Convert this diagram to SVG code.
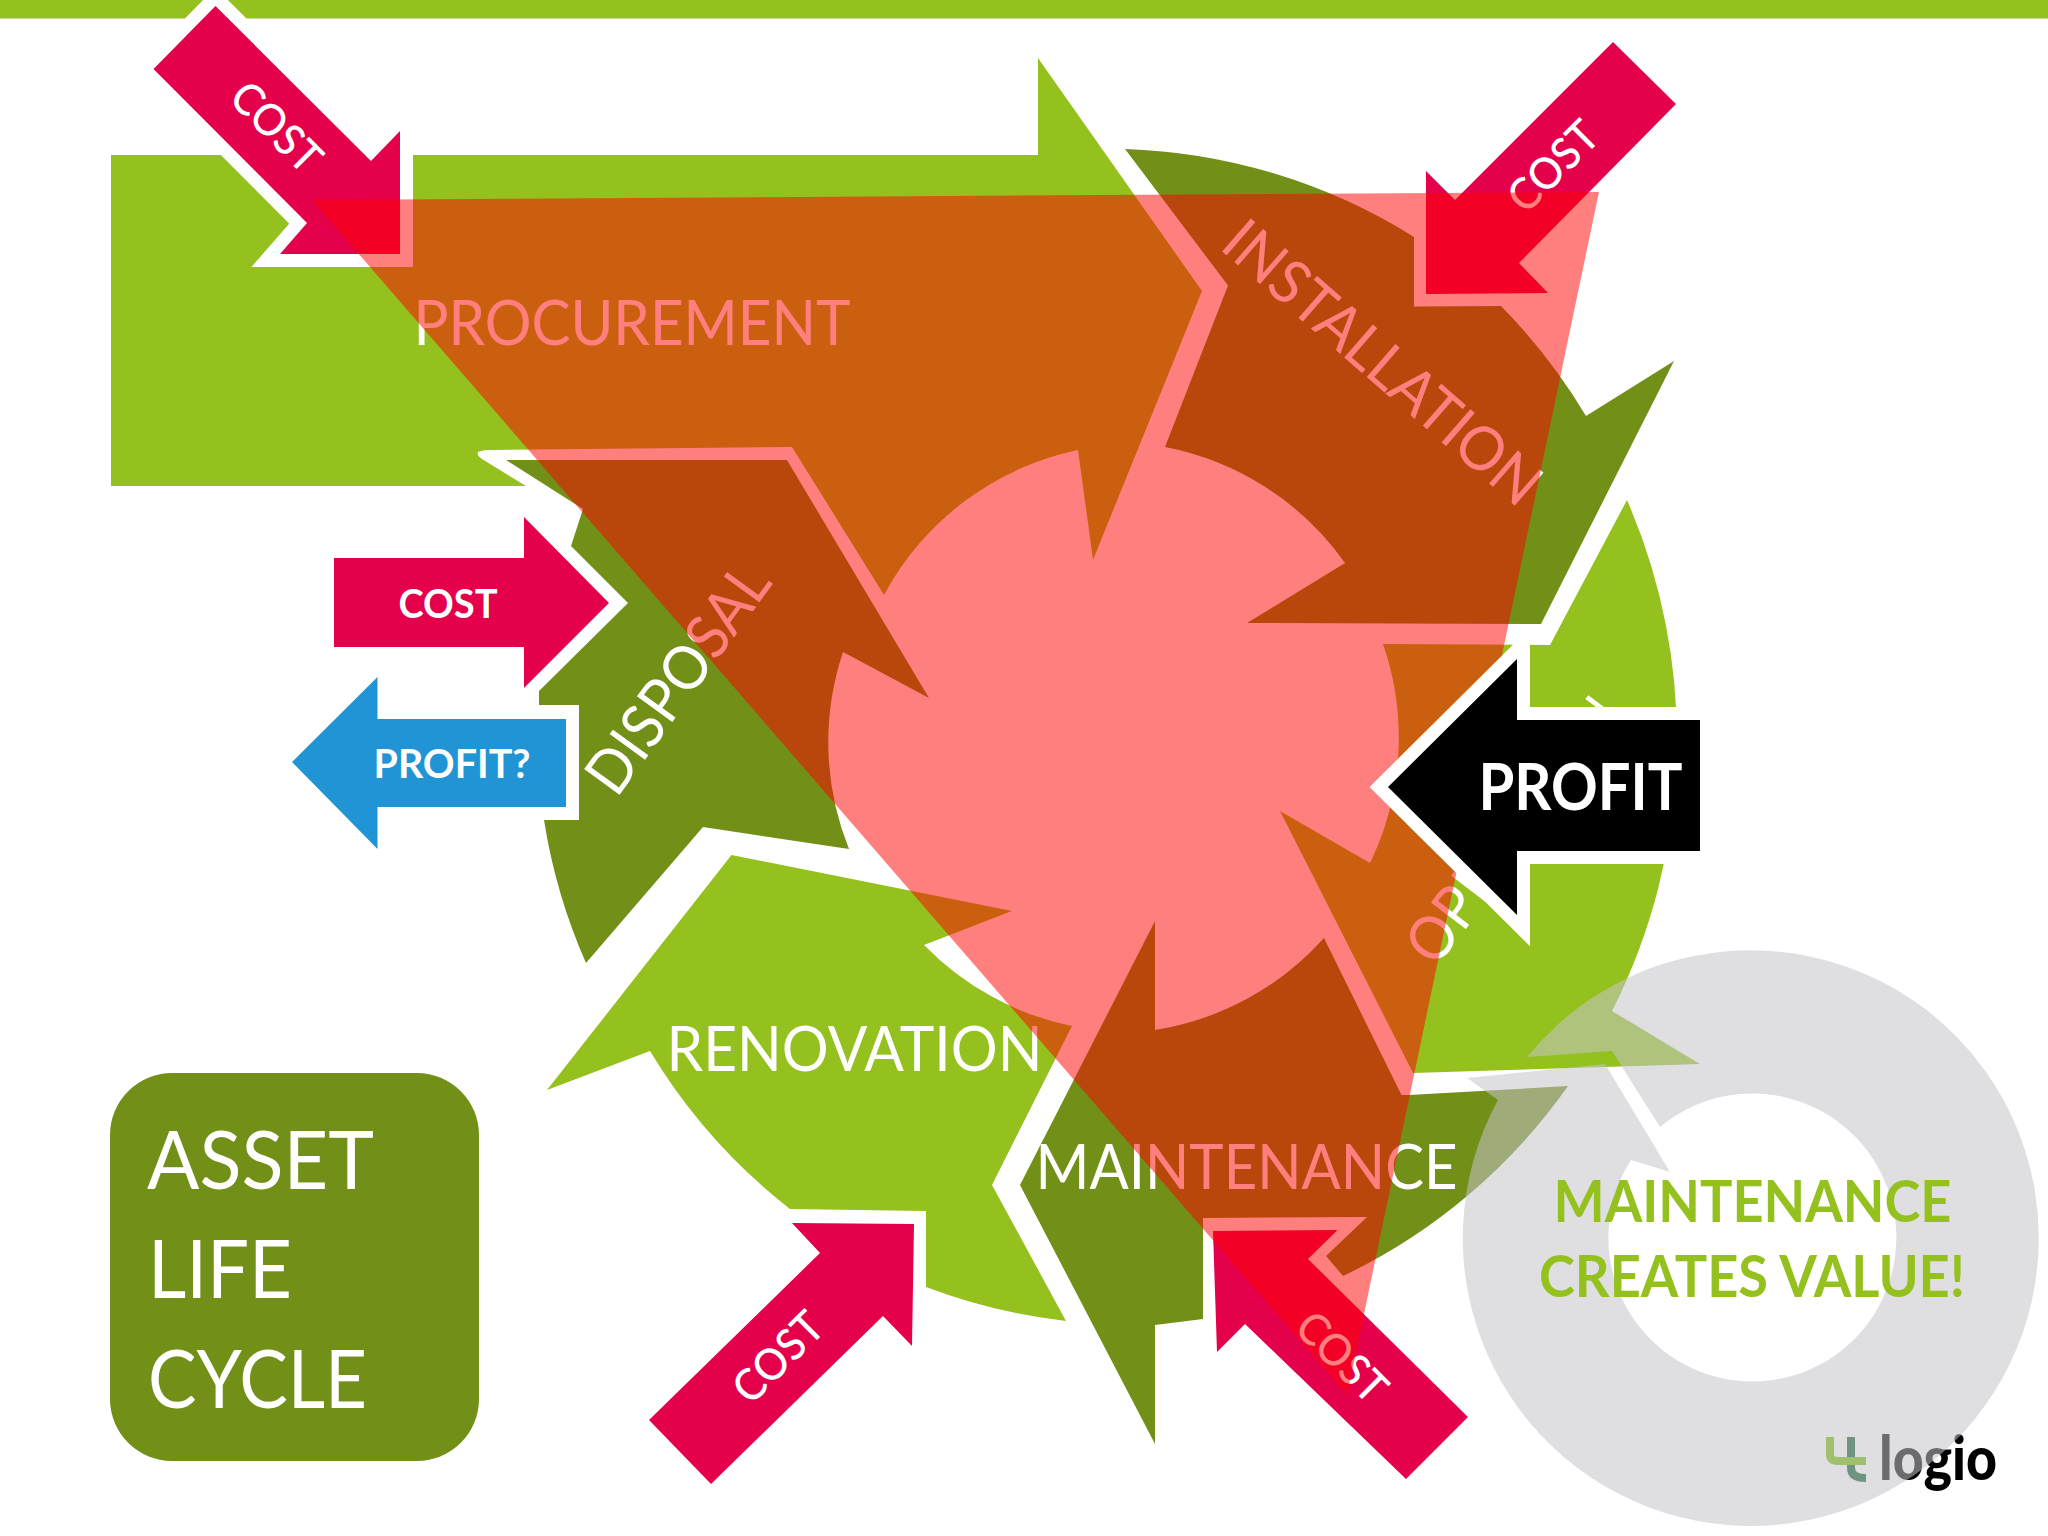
<svg xmlns="http://www.w3.org/2000/svg" width="2048" height="1536" viewBox="0 0 2048 1536">
<style>
text{font-family:Lato,"Open Sans","Liberation Sans",sans-serif;fill:#fff;text-anchor:middle}
.light{fill:#95c11f}
.dark{fill:#728f17}
.cost{fill:#e4004b}
.lab{font-size:61px}
.c{font-size:44px;font-weight:500}
.b{font-size:82px;text-anchor:start}
.g{font-size:58px;font-weight:700;fill:#95c11f}
</style>
<rect width="2048" height="1536" fill="#fff"/>
<rect id="top-bar" width="2048" height="18.5" class="light"/>
<g id="procurement">
<path class="light" d="M111,155H1038V58L1202,291L1093,560L1078,450A287,287 0 0 0 884,595L792,447L490,450Q470,450 482,459L526,486H111Z"/>
<text class="lab" x="632" y="345" textLength="437" lengthAdjust="spacingAndGlyphs">PROCUREMENT</text>
</g>
<g id="installation">
<path class="dark" d="M1125,149A580,580 0 0 1 1414,237V306.5L1501,306A580,580 0 0 1 1586,416L1674,361L1541,624L1247,623L1345,563A287,287 0 0 0 1165,447L1228,285.5Z"/>
<text class="lab" transform="translate(1368.5,378.5) rotate(41)" textLength="398" lengthAdjust="spacingAndGlyphs">INSTALLATION</text>
</g>
<g id="operation">
<path class="light" d="M1627,500A600,600 0 0 1 1612,1011L1700,1064L1413,1073L1280,811L1370,863A287,287 0 0 0 1383,644L1550,645Z"/>
<text class="lab" transform="translate(1531,843) rotate(-52.8)" textLength="315" lengthAdjust="spacingAndGlyphs">OPERATION</text>
</g>
<g id="maintenance">
<path class="dark" d="M1155,921L1020,1185L1155,1444V1325L1203,1319V1218L1367,1217L1326,1256L1343,1276A580,580 0 0 0 1568,1086L1409,1095H1401.5L1324,938A287,287 0 0 1 1155,1030Z"/>
<text class="lab" x="1246.5" y="1189" textLength="422" lengthAdjust="spacingAndGlyphs">MAINTENANCE</text>
</g>
<g id="renovation">
<path class="light" d="M731.5,855L1012,911L924,945A287,287 0 0 0 1072,1026L992,1185L1066,1321A580,580 0 0 1 926,1287V1211L790,1209A580,580 0 0 1 650,1051L547,1090Z"/>
<text class="lab" x="854.5" y="1071" textLength="376" lengthAdjust="spacingAndGlyphs">RENOVATION</text>
</g>
<g id="disposal">
<path class="dark" d="M506,460H787L929,698L843,652A285,285 0 0 0 849,849L703,827L586,963A575,575 0 0 1 544,820H579V705H539V691L628,603L571,546L583,509Z"/>
<text class="lab" transform="translate(695,691) rotate(-54)" textLength="267" lengthAdjust="spacingAndGlyphs">DISPOSAL</text>
</g>
<g id="cost-procurement">
<path class="cost" stroke="#fff" stroke-width="26" paint-order="stroke" d="M215.5,6L371,161L400,131V254H280L307,223L153.5,69Z"/>
<text class="c" transform="translate(265.5,138) rotate(45)" textLength="108" lengthAdjust="spacingAndGlyphs">COST</text>
</g>
<g id="cost-installation">
<path class="cost" d="M1613,42L1676,104L1519,263L1548,293L1426,294V171L1455,200Z"/>
<text class="c" transform="translate(1564,177) rotate(-45)" textLength="108" lengthAdjust="spacingAndGlyphs">COST</text>
</g>
<g id="cost-disposal">
<path class="cost" d="M334,558H524V517L609,603L524,688V647H334Z"/>
<text class="c" style="font-size:40px;font-weight:700" x="448" y="618" textLength="99" lengthAdjust="spacingAndGlyphs">COST</text>
</g>
<g id="profit-disposal">
<path fill="#2094d4" d="M566,719H377.5V677L292,762L377.5,849V807H566Z"/>
<text style="font-size:40px;font-weight:700" x="452" y="778" textLength="157" lengthAdjust="spacingAndGlyphs">PROFIT?</text>
</g>
<g id="cost-renovation">
<path class="cost" d="M792,1223L914,1224L912,1346L883,1316L711,1484L649,1420L820,1253Z"/>
<text class="c" transform="translate(789,1368) rotate(-45)" textLength="108" lengthAdjust="spacingAndGlyphs">COST</text>
</g>
<g id="cost-maintenance">
<path class="cost" d="M1468,1417L1406,1479L1245,1324L1217,1352L1213,1231L1337.5,1230L1308,1259Z"/>
<text class="c" transform="translate(1331,1368) rotate(45)" textLength="108" lengthAdjust="spacingAndGlyphs">COST</text>
</g>
<polygon id="red-triangle" fill="#f00" fill-opacity=".5" points="312,200 1599,192 1347,1395"/>
<g id="profit-operation">
<path fill="#000" stroke="#fff" stroke-width="26" paint-order="stroke" d="M1388,787L1517,659V720H1700V851H1517V915Z"/>
<text style="font-size:65px;font-weight:700" x="1580.5" y="810" textLength="204" lengthAdjust="spacingAndGlyphs">PROFIT</text>
</g>
<g id="logo">
<path fill="none" stroke="#0a5a2a" stroke-width="8" d="M1851,1437V1468Q1851,1478 1866,1478"/>
<path fill="none" stroke="#73b900" stroke-width="8" d="M1830,1437V1454Q1830,1461 1838,1461H1866"/>
<text style="font-size:60px;font-weight:900;fill:#000" x="1938" y="1480" textLength="118" lengthAdjust="spacingAndGlyphs">logio</text>
</g>
<path id="value-ring" fill="#c4c5ca" fill-opacity=".55" d="M1527,1057A288,288 0 0 1 2038.8,1237.5A288,288 0 1 1 1498,1100L1467,1078L1605,1064L1670,1172L1631,1160A144,144 0 0 0 1752.7,1381.5A144,144 0 1 0 1660,1127L1612,1051Z"/>
<g id="value-label">
<text class="g" x="1752.5" y="1222" textLength="398" lengthAdjust="spacingAndGlyphs">MAINTENANCE</text>
<text class="g" x="1752" y="1297" textLength="426" lengthAdjust="spacingAndGlyphs">CREATES VALUE!</text>
</g>
<g id="title">
<rect class="dark" x="110" y="1073" width="369" height="388" rx="62" ry="62"/>
<text class="b" x="147" y="1189" textLength="227" lengthAdjust="spacingAndGlyphs">ASSET</text>
<text class="b" x="148" y="1298" textLength="144" lengthAdjust="spacingAndGlyphs">LIFE</text>
<text class="b" x="148" y="1408" textLength="219" lengthAdjust="spacingAndGlyphs">CYCLE</text>
</g>
</svg>
